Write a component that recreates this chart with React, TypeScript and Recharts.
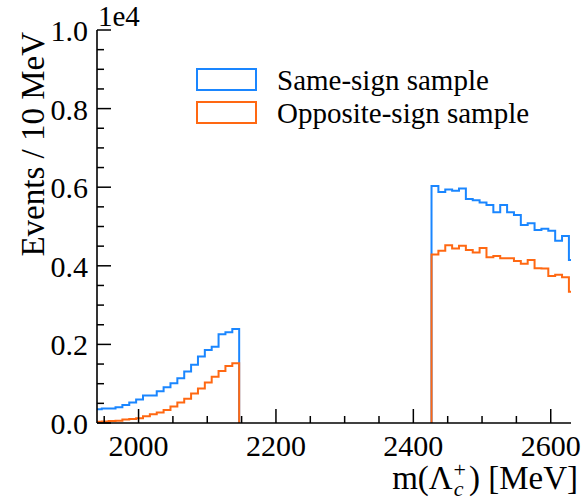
import React from 'react';
import { LineChart, Line, XAxis, YAxis } from 'recharts';

// Histogram bins: 10 MeV wide, lower sideband starts at 1936.46, upper at 2426.46
const BIN_WIDTH = 10;
const lowStart = 1936.46;
const highStart = 2426.46;

// Events per bin (counts)
const sameSignLow = [350, 370, 370, 400, 460, 520, 600, 700, 700, 810, 910, 1010, 1140, 1310, 1480, 1690, 1860, 1940, 2260, 2310, 2390];
const oppSignLow = [30, 40, 50, 60, 90, 100, 120, 170, 220, 270, 330, 420, 520, 620, 750, 880, 1030, 1180, 1320, 1450, 1520];
const sameSignHigh = [6030, 5880, 5940, 5910, 5970, 5700, 5670, 5610, 5550, 5360, 5550, 5360, 5290, 5040, 5080, 4910, 4940, 4890, 4640, 4760, 4150];
const oppSignHigh = [4290, 4380, 4520, 4440, 4510, 4400, 4340, 4450, 4220, 4250, 4190, 4190, 4120, 4050, 4150, 3940, 3930, 3740, 3770, 3710, 3340];

const seriesNames = ['Same-sign sample', 'Opposite-sign sample'];
const seriesColors = ['#1a86ff', '#ff6812'];

const xDomain = [1939.5, 2629.5];
const xMajorTicks = [2000, 2200, 2400, 2600];
const xAllTicks = [1950, 2000, 2050, 2100, 2150, 2200, 2250, 2300, 2350, 2400, 2450, 2500, 2550, 2600];
const yMajorTicks = [0, 2000, 4000, 6000, 8000, 10000];
const yAllTicks = [0, 500, 1000, 1500, 2000, 2500, 3000, 3500, 4000, 4500, 5000, 5500, 6000, 6500, 7000, 7500, 8000, 8500, 9000, 9500, 10000];

const FONT = '"Liberation Serif", "Times New Roman", serif';
const TICK_FS = 30;
const LABEL_FS = 33;
const LEGEND_FS = 29;

type Pt = { x: number; y: number | null };

function stepPoints(start: number, values: number[]): Pt[] {
  const pts: Pt[] = [{ x: start, y: 0 }];
  values.forEach((v, i) => pts.push({ x: start + i * BIN_WIDTH, y: v }));
  pts.push({ x: start + values.length * BIN_WIDTH, y: 0 });
  return pts;
}

function buildSeries(low: number[], high: number[]): Pt[] {
  return [...stepPoints(lowStart, low), { x: 2290, y: null }, ...stepPoints(highStart, high)];
}

const sameSignData = buildSeries(sameSignLow, sameSignHigh);
const oppSignData = buildSeries(oppSignLow, oppSignHigh);

const MAJ = 14;
const MIN = 7;

const BottomTick = (props: any) => {
  const { x, y, payload } = props;
  const major = xMajorTicks.includes(payload.value);
  return (
    <g>
      <line x1={x} x2={x} y1={y} y2={y - (major ? MAJ : MIN)} stroke="#000" strokeWidth={1.5} />
      {major && (
        <text x={x} y={y + 33} textAnchor="middle" fontSize={TICK_FS} fontFamily={FONT} fill="#000">
          {payload.value}
        </text>
      )}
    </g>
  );
};

const TopTick = (props: any) => {
  const { x, y, payload } = props;
  const major = xMajorTicks.includes(payload.value);
  return <line x1={x} x2={x} y1={y} y2={y + (major ? MAJ : MIN)} stroke="#000" strokeWidth={1.5} />;
};

const LeftTick = (props: any) => {
  const { x, y, payload } = props;
  const major = yMajorTicks.includes(payload.value);
  return (
    <g>
      <line x1={x} x2={x + (major ? MAJ : MIN)} y1={y} y2={y} stroke="#000" strokeWidth={1.5} />
      {major && (
        <text x={x - 9} y={y + 11} textAnchor="end" fontSize={TICK_FS} fontFamily={FONT} fill="#000">
          {(payload.value / 1e4).toFixed(1)}
        </text>
      )}
    </g>
  );
};

const RightTick = (props: any) => {
  const { x, y, payload } = props;
  const major = yMajorTicks.includes(payload.value);
  return <line x1={x} x2={x - (major ? MAJ : MIN)} y1={y} y2={y} stroke="#000" strokeWidth={1.5} />;
};

export default function App() {
  const axisLine = { stroke: '#000', strokeWidth: 1.6 };
  return (
    <div style={{ position: 'absolute', left: 0, top: 0, width: 582, height: 500, background: '#fff' }}>
      <LineChart
        width={582}
        height={500}
        margin={{ top: 30, right: 11, left: 0, bottom: 37 }}
      >
        <XAxis
          xAxisId="b"
          type="number"
          dataKey="x"
          domain={xDomain}
          allowDataOverflow
          ticks={xAllTicks}
          interval={0}
          tickSize={0}
          tickMargin={0}
          tickLine={false}
          axisLine={axisLine}
          tick={<BottomTick />}
          height={40}
          orientation="bottom"
        />
        <XAxis
          xAxisId="t"
          type="number"
          dataKey="x"
          domain={xDomain}
          allowDataOverflow
          ticks={xAllTicks}
          interval={0}
          tickSize={0}
          tickMargin={0}
          tickLine={false}
          axisLine={axisLine}
          tick={<TopTick />}
          height={0}
          orientation="top"
        />
        <YAxis
          yAxisId="l"
          type="number"
          domain={[0, 10000]}
          allowDataOverflow
          ticks={yAllTicks}
          interval={0}
          tickSize={0}
          tickMargin={0}
          tickLine={false}
          axisLine={axisLine}
          tick={<LeftTick />}
          width={97}
          orientation="left"
        />
        <YAxis
          yAxisId="r"
          type="number"
          domain={[0, 10000]}
          allowDataOverflow
          ticks={yAllTicks}
          interval={0}
          tickSize={0}
          tickMargin={0}
          tickLine={false}
          axisLine={axisLine}
          tick={<RightTick />}
          width={0}
          orientation="right"
        />
        <Line
          xAxisId="b"
          yAxisId="l"
          data={sameSignData}
          dataKey="y"
          type="stepAfter"
          stroke={seriesColors[0]}
          strokeWidth={2}
          dot={false}
          activeDot={false}
          connectNulls={false}
          isAnimationActive={false}
          name={seriesNames[0]}
        />
        <Line
          xAxisId="b"
          yAxisId="l"
          data={oppSignData}
          dataKey="y"
          type="stepAfter"
          stroke={seriesColors[1]}
          strokeWidth={2}
          dot={false}
          activeDot={false}
          connectNulls={false}
          isAnimationActive={false}
          name={seriesNames[1]}
        />
      </LineChart>
      <svg
        width={582}
        height={500}
        style={{ position: 'absolute', left: 0, top: 0, pointerEvents: 'none' }}
      >
        <text x={98} y={26} fontSize={29} fontFamily={FONT} fill="#000">1e4</text>
        <text
          transform="translate(44,32) rotate(-90)"
          textAnchor="end"
          fontSize={LABEL_FS}
          fontFamily={FONT}
          fill="#000"
        >
          Events / 10 MeV
        </text>
        <text x={578} y={489} textAnchor="end" fontSize={LABEL_FS} fontFamily={FONT} fill="#000">
          m(Λ
          <tspan fontStyle="italic" fontSize={22} dx={1} dy={7}>c</tspan>
          <tspan fontSize={22} dx={-10} dy={-19}>+</tspan>
          <tspan dx={3} dy={12}>) [MeV]</tspan>
        </text>
        {seriesNames.map((name, i) => (
          <g key={name}>
            <rect x={197} y={69 + i * 33} width={59} height={21} fill="none" stroke={seriesColors[i]} strokeWidth={2} />
            <text x={277} y={90 + i * 33} fontSize={LEGEND_FS} fontFamily={FONT} fill="#000">{name}</text>
          </g>
        ))}
      </svg>
    </div>
  );
}
